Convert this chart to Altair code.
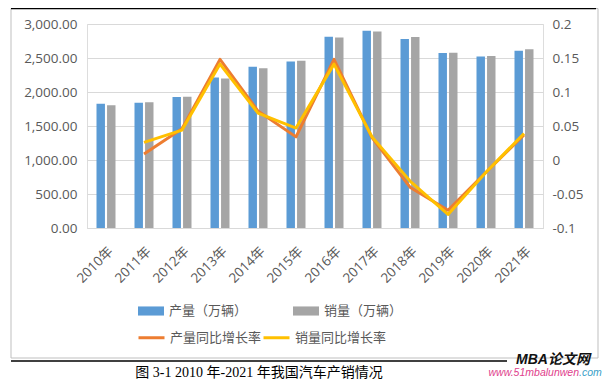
import altair as alt
import pandas as pd

years = ["2010年", "2011年", "2012年", "2013年", "2014年", "2015年",
         "2016年", "2017年", "2018年", "2019年", "2020年", "2021年"]
production = [1826.47, 1841.89, 1927.18, 2211.68, 2372.29, 2450.33,
              2811.88, 2901.54, 2780.92, 2572.07, 2522.52, 2608.20]
sales = [1806.19, 1850.51, 1930.64, 2198.41, 2349.19, 2459.76,
         2802.82, 2887.89, 2808.06, 2576.90, 2531.11, 2627.50]
prod_rate = [None, 0.009, 0.046, 0.148, 0.072, 0.034,
             0.148, 0.033, -0.040, -0.074, -0.018, 0.037]
sales_rate = [None, 0.026, 0.044, 0.141, 0.069, 0.047,
              0.141, 0.034, -0.031, -0.080, -0.018, 0.039]
bar_series = ["产量（万辆）", "销量（万辆）"]
line_series = ["产量同比增长率", "销量同比增长率"]
bar_colors = ["#5B9BD5", "#A5A5A5"]
line_colors = ["#ED7D31", "#FFC000"]
left_ticks = [0, 500, 1000, 1500, 2000, 2500, 3000]
right_ticks = [-0.1, -0.05, 0, 0.05, 0.1, 0.15, 0.2]
caption = "图 3-1  2010 年-2021 年我国汽车产销情况"
wm_title = "MBA论文网"
wm_url = "www.51mbalunwen"
wm_tld = ".com"

bar_df = pd.DataFrame({
    "year": years * 2,
    "series": [bar_series[0]] * len(years) + [bar_series[1]] * len(years),
    "value": production + sales,
})
rows = []
for s, vals in zip(line_series, [prod_rate, sales_rate]):
    for y, v in zip(years, vals):
        if v is not None:
            rows.append({"year": y, "series": s, "rate": v})
line_df = pd.DataFrame(rows)
one = pd.DataFrame({"k": [0]})

FONT = "Open Sans, Noto Sans CJK SC, sans-serif"
TXT = "#595959"
GRID = "#D9D9D9"

x_enc = alt.X(
    "year:N", sort=years,
    scale=alt.Scale(paddingInner=0.5, paddingOuter=0.25),
    axis=alt.Axis(title=None, labelAngle=-45, domainColor=GRID, ticks=False,
                  labelColor=TXT, labelFontSize=13.5, labelFont=FONT,
                  labelPadding=16, grid=False),
)

bars = alt.Chart(bar_df).mark_bar().encode(
    x=x_enc,
    xOffset=alt.XOffset("series:N", sort=bar_series,
                        scale=alt.Scale(paddingInner=0.2)),
    y=alt.Y("value:Q", scale=alt.Scale(domain=[0, 3000], nice=False),
            axis=alt.Axis(title=None, orient="left", values=left_ticks,
                          format=",.2f", grid=True, gridColor=GRID,
                          domain=False, ticks=False, labelPadding=10,
                          labelColor=TXT, labelFontSize=13.5, labelFont=FONT)),
    color=alt.Color("series:N", sort=bar_series,
                    scale=alt.Scale(domain=bar_series, range=bar_colors),
                    legend=alt.Legend(title=None, orient="none", legendX=50,
                                      legendY=273, direction="horizontal",
                                      columns=2,
                                      symbolType="M-1,-0.35H1V0.35H-1Z",
                                      symbolSize=676, columnPadding=44,
                                      labelOffset=4, padding=0,
                                      labelFontSize=13, labelColor=TXT,
                                      labelFont=FONT)),
)

lines = alt.Chart(line_df).mark_line(strokeWidth=3, strokeJoin="round").encode(
    x=alt.X("year:N", sort=years),
    y=alt.Y("rate:Q", scale=alt.Scale(domain=[-0.1, 0.2], nice=False, zero=False),
            axis=alt.Axis(title=None, orient="right", values=right_ticks,
                          labelExpr="toString(round(datum.value*100)/100)",
                          grid=False, domain=False, ticks=False,
                          labelPadding=9, labelColor=TXT, labelFontSize=13.5,
                          labelFont=FONT)),
    color=alt.Color("series:N", sort=line_series,
                    scale=alt.Scale(domain=line_series, range=line_colors),
                    legend=alt.Legend(title=None, orient="none", legendX=50,
                                      legendY=299, direction="horizontal",
                                      columns=2, symbolType="stroke",
                                      symbolSize=676, symbolStrokeWidth=3,
                                      columnPadding=-10, labelOffset=4,
                                      padding=0, labelFontSize=13,
                                      labelColor=TXT, labelFont=FONT)),
)

frame = alt.Chart(one).mark_rect(fill=None, stroke="#BFBFBF", strokeWidth=1).encode(
    x=alt.value(-76), x2=alt.value(511), y=alt.value(-15.5), y2=alt.value(334))
top_rule = alt.Chart(one).mark_rule(color="#000000", strokeWidth=1.5).encode(
    x=alt.value(-76), x2=alt.value(509), y=alt.value(-15.5))
bot_rule = alt.Chart(one).mark_rule(color="#000000", strokeWidth=1.5).encode(
    x=alt.value(-76), x2=alt.value(420), y=alt.value(337))

cap = alt.Chart(one).mark_text(font="Liberation Serif, Noto Sans CJK SC, serif",
                               fontSize=14, color="#000000", baseline="middle").encode(
    x=alt.value(172), y=alt.value(349), text=alt.value(caption))
wm1 = alt.Chart(one).mark_text(font="Liberation Sans, Noto Sans CJK SC, sans-serif",
                               fontSize=14, fontWeight="bold", fontStyle="italic",
                               color="#111111", align="center", baseline="middle").encode(
    x=alt.value(466), y=alt.value(336), text=alt.value(wm_title))
wm2 = alt.Chart(one).mark_text(font="Liberation Sans, sans-serif", fontSize=10.5,
                               fontStyle="italic", color="#E0408C", align="right",
                               baseline="middle").encode(
    x=alt.value(492), y=alt.value(349), text=alt.value(wm_url))
wm3 = alt.Chart(one).mark_text(font="Liberation Sans, sans-serif", fontSize=10.5,
                               fontStyle="italic", color="#3AA0C8", align="left",
                               baseline="middle").encode(
    x=alt.value(492), y=alt.value(349), text=alt.value(wm_tld))

chart = alt.layer(frame, top_rule, bot_rule, bars, lines, cap, wm1, wm2, wm3).resolve_scale(
    y="independent", color="independent"
).properties(
    width=456, height=204, autosize="none",
    padding={"left": 79, "top": 16, "right": 62, "bottom": 152},
).configure_view(stroke=None).configure(font=FONT)

chart.save("out.html", embed_options={"renderer": "svg", "actions": False})
